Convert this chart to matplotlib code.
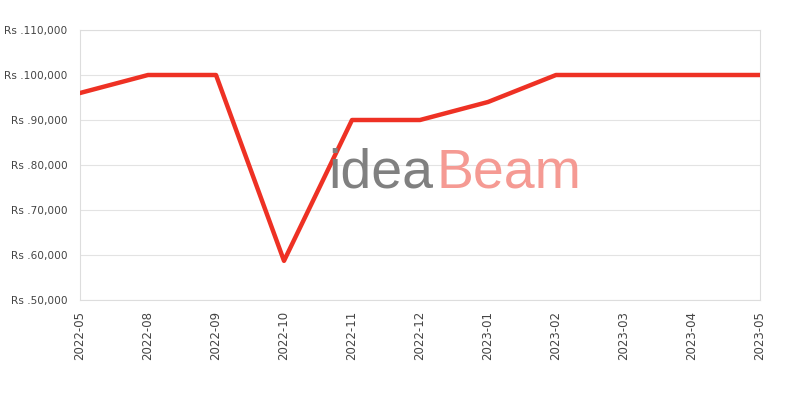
import matplotlib
matplotlib.use("Agg")
import matplotlib.pyplot as plt

months = ["2022-05", "2022-08", "2022-09", "2022-10", "2022-11", "2022-12",
          "2023-01", "2023-02", "2023-03", "2023-04", "2023-05"]
prices = [96000, 100000, 100000, 58700, 90000, 90000,
          94000, 100000, 100000, 100000, 100000]
yticks = [50000, 60000, 70000, 80000, 90000, 100000, 110000]

fig = plt.figure(figsize=(8, 4), dpi=100)
ax = fig.add_axes([0.1, 0.25, 0.85, 0.675])

x = list(range(len(months)))
ax.plot(x, prices, color="#ee3124", linewidth=3.2, zorder=3)

ax.set_xlim(0, len(months) - 1)
ax.set_ylim(50000, 110000)
ax.set_yticks(yticks)
ax.set_yticklabels(["Rs .{:,}".format(v) for v in yticks])
ax.set_xticks(x)
ax.set_xticklabels(months, rotation=90)
ax.tick_params(axis="y", length=0, labelsize=7.6, colors="#444444", pad=9)
ax.tick_params(axis="x", length=0, labelsize=8.5, colors="#444444", pad=8)
ax.grid(axis="y", color="#e3e3e3", linewidth=0.8)
for s in ax.spines.values():
    s.set_color("#dddddd")

# watermark
t1 = fig.text(0.41, 0.53, "idea", fontsize=40, color="#808080", family="Liberation Sans",
              va="baseline", ha="left", zorder=1)
t2 = fig.text(0.0, 0.53, "Beam", fontsize=40, color="#f59a93", family="Liberation Sans",
              va="baseline", ha="left", zorder=1)
fig.canvas.draw()
bb = t1.get_window_extent()
t2.set_position(((bb.x1 + 3) / fig.bbox.width, 0.53))

fig.savefig("out.png", dpi=100)
